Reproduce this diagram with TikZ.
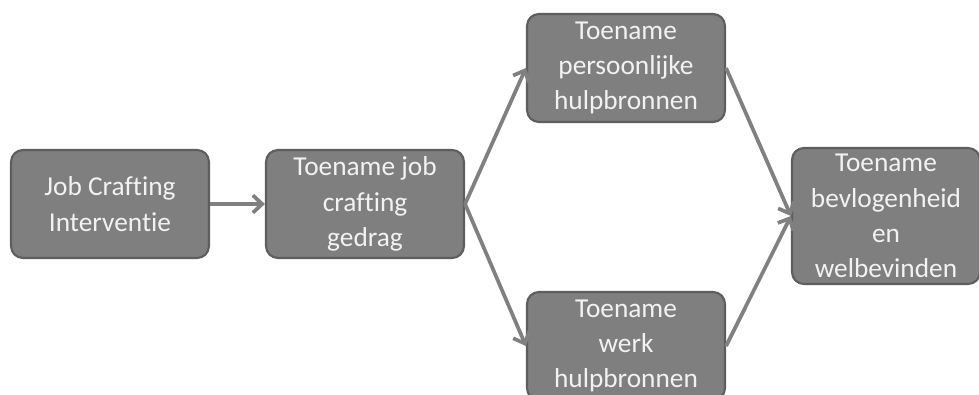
\documentclass[tikz,border=0pt]{standalone}
\usepackage{fontspec}
\setmainfont[Ligatures={NoCommon,NoRare}]{Carlito}
\usetikzlibrary{arrows.meta}
\definecolor{boxfill}{HTML}{7F7F7F}
\definecolor{boxline}{HTML}{5E5E5E}
\definecolor{boxtext}{HTML}{F2F2F2}
\definecolor{arrowc}{HTML}{808080}
\begin{document}
\begin{tikzpicture}[x=0.75pt,y=-0.75pt,
  stepbox/.style={draw=boxline,fill=boxfill,line width=1.6pt,rounded corners=9pt,
    text=boxtext,align=center,inner sep=0pt,
    font=\fontsize{20.5}{26.5}\selectfont},
  conn/.style={draw=arrowc,line width=2.8pt,-{Straight Barb[length=7pt,width=13pt]}}]
\useasboundingbox (0,0) rectangle (979,394);
\node[stepbox,minimum width=148.5pt,minimum height=81pt] (A) at (110,204) {Job Crafting\\Interventie};
\node[stepbox,minimum width=148.5pt,minimum height=81pt] (B) at (365,204) {Toename job\\crafting\\gedrag};
\node[stepbox,minimum width=148.5pt,minimum height=81pt] (C) at (626,68) {Toename\\persoonlijke\\hulpbronnen};
\node[stepbox,minimum width=148.5pt,minimum height=81pt] (D) at (626,346) {Toename\\werk\\hulpbronnen};
\node[stepbox,minimum width=141pt,minimum height=102pt] (E) at (886,216) {Toename\\bevlogenheid\\en\\welbevinden};
\draw[conn] (A.east) -- (B.west);
\draw[conn] (B.east) -- (C.west);
\draw[conn] (B.east) -- (D.west);
\draw[conn] (C.east) -- (E.west);
\draw[conn] (D.east) -- (E.west);
\end{tikzpicture}
\end{document}
